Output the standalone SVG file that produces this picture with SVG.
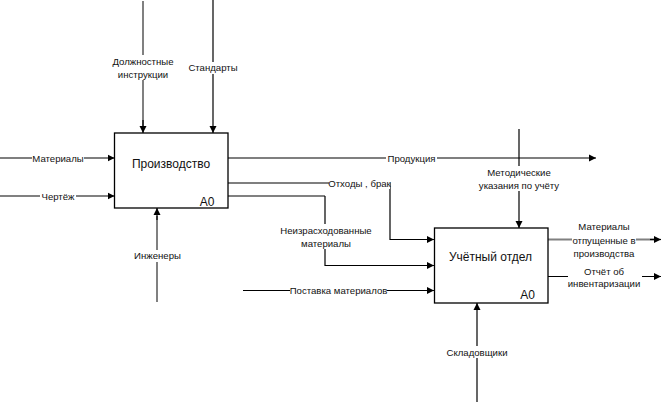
<svg xmlns="http://www.w3.org/2000/svg" width="662" height="402" viewBox="0 0 662 402">
<style>
.bg{fill:#fff}
.ln{fill:none;stroke:#000;stroke-width:1.2}
.gr{fill:none;stroke:#808080;stroke-width:2}
.box{fill:#fff;stroke:#000;stroke-width:1.3}
.t{font-family:"Liberation Sans",Arial,sans-serif;font-size:9.6px;fill:#111;text-anchor:middle}
.tb{font-family:"Liberation Sans",Arial,sans-serif;font-size:12px;fill:#111;text-anchor:middle}
</style>
<defs>
<marker id="ah" markerWidth="8" markerHeight="8" refX="7" refY="4" orient="auto" markerUnits="userSpaceOnUse">
<path d="M0,0.5 L7,4 L0,7.5 Z" fill="#000"/>
</marker>
</defs>
<rect width="662" height="402" fill="#fff"/>
<g id="connectors">
<path class="ln" d="M0,158 H114.5" marker-end="url(#ah)"/>
<path class="gr" d="M0,196 H114.5" marker-end="url(#ah)"/>
<path class="gr" d="M143,1 V126"/>
<path class="ln" d="M143,120 V133" marker-end="url(#ah)"/>
<path class="ln" d="M213,0 V133" marker-end="url(#ah)"/>
<path class="gr" d="M157,302 V216"/>
<path class="ln" d="M157,220 V208" marker-end="url(#ah)"/>
<path class="ln" d="M228,158 H596" marker-end="url(#ah)"/>
<path class="ln" d="M228,183 H390 V239.5 H434" marker-end="url(#ah)"/>
<path class="gr" d="M228,196 H325"/>
<path class="ln" d="M325,196 V265.5 H434" marker-end="url(#ah)"/>
<path class="ln" d="M243,290.5 H434" marker-end="url(#ah)"/>
<path class="ln" d="M519,129 V228" marker-end="url(#ah)"/>
<path class="ln" d="M477,402 V303" marker-end="url(#ah)"/>
<path class="gr" d="M548,239.5 H654"/>
<path class="ln" d="M650,239.5 H661" marker-end="url(#ah)"/>
<path class="ln" d="M548,276.5 H661" marker-end="url(#ah)"/>
</g>
<g id="labels">
<g id="lbl-dolzh"><rect class="bg" x="110" y="55" width="66" height="25"/><text class="t" x="143" y="64.5">Должностные</text><text class="t" x="143" y="77.5">инструкции</text></g>
<g id="lbl-stand"><rect class="bg" x="188" y="62" width="50" height="12"/><text class="t" x="213" y="70.5">Стандарты</text></g>
<g id="lbl-mat"><rect class="bg" x="32" y="153" width="52" height="11"/><text class="t" x="58" y="161.5">Материалы</text></g>
<g id="lbl-chert"><rect class="bg" x="40" y="191" width="36" height="11"/><text class="t" x="58" y="199.5">Чертёж</text></g>
<g id="lbl-eng"><rect class="bg" x="132" y="250" width="51" height="12"/><text class="t" x="157.5" y="259">Инженеры</text></g>
<g id="lbl-prod"><rect class="bg" x="386" y="153" width="51" height="11"/><text class="t" x="411.5" y="161.5">Продукция</text></g>
<g id="lbl-otx"><rect class="bg" x="329" y="178" width="61" height="11"/><text class="t" x="359.5" y="186.5">Отходы , брак</text></g>
<g id="lbl-neizr"><rect class="bg" x="279" y="224" width="94" height="25"/><text class="t" x="326" y="233.5">Неизрасходованные</text><text class="t" x="326" y="246.5">материалы</text></g>
<g id="lbl-post"><rect class="bg" x="290" y="285" width="97" height="11"/><text class="t" x="338.5" y="294">Поставка материалов</text></g>
<g id="lbl-metod"><rect class="bg" x="473" y="166" width="92" height="25"/><text class="t" x="519" y="175.5">Методические</text><text class="t" x="519" y="188.5">указания по учёту</text></g>
<g id="lbl-sklad"><rect class="bg" x="446" y="346" width="62" height="12"/><text class="t" x="477" y="355.5">Складовщики</text></g>
<g id="lbl-matotp"><rect class="bg" x="572" y="221" width="64" height="38"/><text class="t" x="604" y="230">Материалы</text><text class="t" x="604" y="243.5">отпущенные в</text><text class="t" x="604" y="257">производства</text></g>
<g id="lbl-otchet"><rect class="bg" x="568" y="266" width="74" height="24"/><text class="t" x="604" y="274.5">Отчёт об</text><text class="t" x="604" y="287">инвентаризации</text></g>
</g>
<g id="node-A0-production">
<rect class="box" x="114.5" y="133" width="113.5" height="75"/>
<text class="tb" x="171" y="167.5">Производство</text>
<text class="tb" x="207" y="206">A0</text>
</g>
<g id="node-A0-accounting">
<rect class="box" x="434.5" y="228" width="113.5" height="75"/>
<text class="tb" x="490.5" y="261">Учётный отдел</text>
<text class="tb" x="527.5" y="298.5">A0</text>
</g>
</svg>
